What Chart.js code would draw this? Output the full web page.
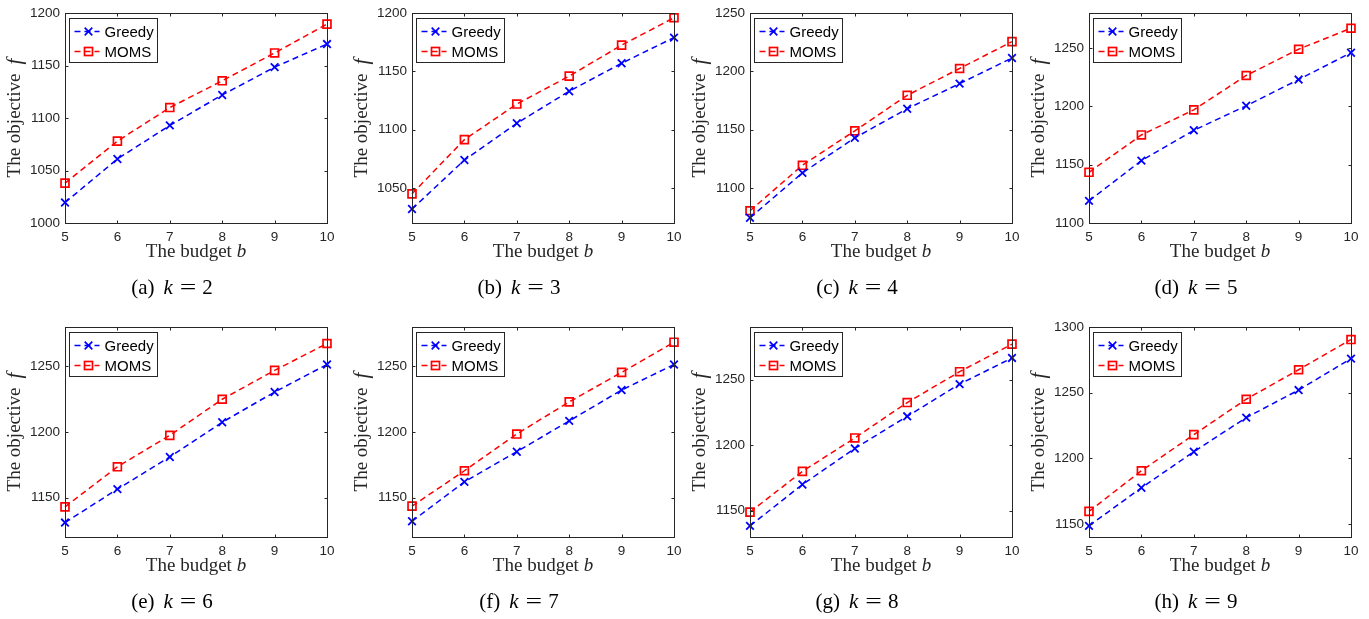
<!DOCTYPE html>
<html>
<head>
<meta charset="utf-8">
<script src="https://cdn.jsdelivr.net/npm/chart.js@4.4.1/dist/chart.umd.min.js"></script>
<style>
  html, body { margin: 0; padding: 0; background: #fff; overflow: hidden; }
  canvas { position: absolute; }
</style>
</head>
<body>
<script>
// x axis: the budget b
const budgets = [5, 6, 7, 8, 9, 10];

// one panel per k
const panelLetters = ['a', 'b', 'c', 'd', 'e', 'f', 'g', 'h'];
const kValues = [2, 3, 4, 5, 6, 7, 8, 9];

// objective values
const greedyK2 = [1019.5, 1061, 1093, 1122, 1148.5, 1170.5];
const momsK2   = [1038, 1078, 1110, 1135.5, 1162, 1189.5];
const greedyK3 = [1032, 1074, 1105.5, 1133, 1157, 1179];
const momsK3   = [1045, 1091.5, 1122, 1146, 1172.5, 1196];
const greedyK4 = [1074.5, 1113, 1143, 1168, 1189.5, 1211.5];
const momsK4   = [1080.5, 1119.5, 1149, 1179.5, 1202.5, 1225.5];
const greedyK5 = [1119, 1153.5, 1179.5, 1200.5, 1223, 1246];
const momsK5   = [1143.5, 1175.5, 1197, 1226.5, 1249, 1267];
const greedyK6 = [1131, 1156.5, 1181, 1207.5, 1230.5, 1251.5];
const momsK6   = [1143, 1173.5, 1197.5, 1225, 1247, 1267.5];
const greedyK7 = [1132, 1162, 1185, 1208.5, 1232, 1251.5];
const momsK7   = [1143.5, 1170.5, 1198.5, 1223, 1245.5, 1268.5];
const greedyK8 = [1138.5, 1170, 1197.5, 1222, 1246.5, 1266.5];
const momsK8   = [1149, 1180, 1205.5, 1232.5, 1256, 1277];
const greedyK9 = [1148.5, 1177.5, 1205, 1231, 1252, 1276];
const momsK9   = [1159.5, 1190.5, 1218, 1245, 1267.5, 1290.5];

const greedySeries = [greedyK2, greedyK3, greedyK4, greedyK5, greedyK6, greedyK7, greedyK8, greedyK9];
const momsSeries = [momsK2, momsK3, momsK4, momsK5, momsK6, momsK7, momsK8, momsK9];

// y axis ranges and tick labels per panel
const yMins = [1000, 1020, 1070, 1100, 1120, 1120, 1130, 1140];
const yMaxs = [1200, 1200, 1250, 1280, 1280, 1280, 1290, 1300];
const yTicksA = [1000, 1050, 1100, 1150, 1200];
const yTicksB = [1050, 1100, 1150, 1200];
const yTicksC = [1100, 1150, 1200, 1250];
const yTicksD = [1100, 1150, 1200, 1250];
const yTicksE = [1150, 1200, 1250];
const yTicksF = [1150, 1200, 1250];
const yTicksG = [1150, 1200, 1250];
const yTicksH = [1150, 1200, 1250, 1300];
const yTickSets = [yTicksA, yTicksB, yTicksC, yTicksD, yTicksE, yTicksF, yTicksG, yTicksH];

const seriesNames = ['Greedy', 'MOMS'];

// layout / style
const colLefts = [0, 347, 685, 1024];
const rowTops = [0, 314];
const CANVAS_W = 342, CANVAS_H = 310;
const AXIS_COLOR = '#262626';
const SANS = '"Liberation Sans", Arial, sans-serif';
const SERIF = '"Liberation Serif", "Times New Roman", serif';
const DASH = [6, 4];
const BLUE = '#0000ff', RED = '#ff0000';

function drawCross(ctx, x, y, r) {
    ctx.beginPath();
    ctx.moveTo(x - r, y - r); ctx.lineTo(x + r, y + r);
    ctx.moveTo(x - r, y + r); ctx.lineTo(x + r, y - r);
    ctx.stroke();
}

// draws a run of text pieces with different fonts, centred on cx
function drawRuns(ctx, runs, cx, cy) {
    let total = 0;
    runs.forEach(r => {
        ctx.font = r.font;
        r.w = ctx.measureText(r.text).width * (r.sx || 1);
        total += (r.gap || 0) + r.w;
    });
    let x = cx - total / 2;
    ctx.textBaseline = 'middle';
    ctx.textAlign = 'left';
    runs.forEach(r => {
        x += r.gap || 0;
        ctx.font = r.font;
        ctx.save();
        ctx.translate(x, cy);
        ctx.scale(r.sx || 1, 1);
        ctx.fillText(r.text, 0, 0);
        ctx.restore();
        x += r.w;
    });
}

const framePlugin = {
    id: 'frameAndLabels',
    afterDraw(chart, args, opts) {
        const ctx = chart.ctx;
        const a = chart.chartArea;
        const xs = chart.scales.x, ys = chart.scales.y;
        const l = Math.round(a.left) + 0.5, r = Math.round(a.right) + 0.5;
        const t = Math.round(a.top) + 0.5, b = Math.round(a.bottom) + 0.5;
        ctx.save();

        // box with inward ticks
        ctx.strokeStyle = AXIS_COLOR;
        ctx.lineWidth = 1;
        ctx.setLineDash([]);
        ctx.strokeRect(l, t, r - l, b - t);
        ctx.beginPath();
        ys.ticks.forEach(tk => {
            const y = Math.round(ys.getPixelForValue(tk.value)) + 0.5;
            ctx.moveTo(l, y); ctx.lineTo(l + 3, y);
            ctx.moveTo(r, y); ctx.lineTo(r - 3, y);
        });
        xs.ticks.forEach((tk, i) => {
            const x = Math.round(xs.getPixelForTick(i)) + 0.5;
            ctx.moveTo(x, b); ctx.lineTo(x, b - 3);
            ctx.moveTo(x, t); ctx.lineTo(x, t + 3);
        });
        ctx.stroke();

        // legend box
        const lx = l + 4, ly = t + 5, lw = 88, lh = 44;
        ctx.fillStyle = '#fff';
        ctx.fillRect(lx, ly, lw, lh);
        ctx.strokeRect(lx, ly, lw, lh);
        chart.data.datasets.forEach((ds, i) => {
            const y = ly + 13 + i * 20;
            ctx.strokeStyle = ds.borderColor;
            ctx.lineWidth = 1.5;
            ctx.setLineDash(DASH);
            ctx.beginPath();
            ctx.moveTo(lx + 5, y); ctx.lineTo(lx + 30, y);
            ctx.stroke();
            ctx.setLineDash([]);
            const mx = lx + 19;
            ctx.lineWidth = 1.7;
            if (ds.pointStyle === 'crossRot') drawCross(ctx, mx, y, 3.8);
            else ctx.strokeRect(mx - 4, y - 4, 8, 8);
            ctx.fillStyle = '#000';
            ctx.font = '15px ' + SANS;
            ctx.textAlign = 'left';
            ctx.textBaseline = 'middle';
            ctx.fillText(ds.label, lx + 35, y + 1);
        });

        // axis titles and caption
        ctx.fillStyle = '#262626';
        const cx = (a.left + a.right) / 2;
        drawRuns(ctx, [
            { text: 'The budget ', font: '19px ' + SERIF },
            { text: 'b', font: 'italic 19px ' + SERIF }
        ], cx, a.bottom + 29);

        ctx.save();
        ctx.translate(a.left - 50, (a.top + a.bottom) / 2);
        ctx.rotate(-Math.PI / 2);
        drawRuns(ctx, [
            { text: 'The objective', font: '19px ' + SERIF },
            { text: 'f', font: 'italic 21px ' + SERIF, gap: 9 }
        ], 0, 0);
        ctx.restore();

        ctx.fillStyle = '#000';
        drawRuns(ctx, [
            { text: '(' + opts.letter + ')', font: '21px ' + SERIF },
            { text: 'k', font: 'italic 21px ' + SERIF, gap: 9 },
            { text: '=', font: '21px ' + SERIF, gap: 7, sx: 1.4 },
            { text: String(opts.k), font: '21px ' + SERIF, gap: 6 }
        ], cx - 24, a.bottom + 65);

        ctx.restore();
    }
};

function makePanel(i) {
    const canvas = document.createElement('canvas');
    canvas.width = CANVAS_W;
    canvas.height = CANVAS_H;
    canvas.style.left = colLefts[i % 4] + 'px';
    canvas.style.top = rowTops[Math.floor(i / 4)] + 'px';
    document.body.appendChild(canvas);
    const yTicks = yTickSets[i];

    new Chart(canvas.getContext('2d'), {
        type: 'line',
        data: {
            labels: budgets,
            datasets: [
                {
                    label: seriesNames[0],
                    data: greedySeries[i],
                    borderColor: BLUE,
                    backgroundColor: 'transparent',
                    borderWidth: 1.5,
                    borderDash: DASH,
                    pointStyle: 'crossRot',
                    pointRadius: 5.4,
                    pointBorderWidth: 1.8,
                    pointBorderColor: BLUE,
                    tension: 0,
                    clip: false
                },
                {
                    label: seriesNames[1],
                    data: momsSeries[i],
                    borderColor: RED,
                    backgroundColor: 'transparent',
                    borderWidth: 1.5,
                    borderDash: DASH,
                    pointStyle: 'rect',
                    pointRadius: 5.6,
                    pointBorderWidth: 1.7,
                    pointBorderColor: RED,
                    pointBackgroundColor: 'transparent',
                    tension: 0,
                    clip: false
                }
            ]
        },
        options: {
            responsive: false,
            animation: false,
            devicePixelRatio: 1,
            layout: { padding: { left: 15, right: 15, top: 11, bottom: 57 } },
            plugins: {
                legend: { display: false },
                tooltip: { enabled: false },
                frameAndLabels: { letter: panelLetters[i], k: kValues[i] }
            },
            scales: {
                x: {
                    type: 'category',
                    offset: false,
                    grid: { display: false, drawTicks: false },
                    border: { display: false },
                    ticks: { color: AXIS_COLOR, font: { family: SANS, size: 13.5 }, padding: 6, maxRotation: 0, autoSkip: false },
                    afterFit: scale => { scale.height = 30; }
                },
                y: {
                    type: 'linear',
                    min: yMins[i],
                    max: yMaxs[i],
                    grid: { display: false, drawTicks: false },
                    border: { display: false },
                    ticks: {
                        color: AXIS_COLOR,
                        font: { family: SANS, size: 13.5 },
                        padding: 5,
                        callback: v => String(v)
                    },
                    afterBuildTicks: scale => { scale.ticks = yTicks.map(v => ({ value: v })); },
                    afterFit: scale => { scale.width = 50; }
                }
            }
        },
        plugins: [framePlugin]
    });
}

panelLetters.forEach((_, i) => makePanel(i));
</script>
</body>
</html>
